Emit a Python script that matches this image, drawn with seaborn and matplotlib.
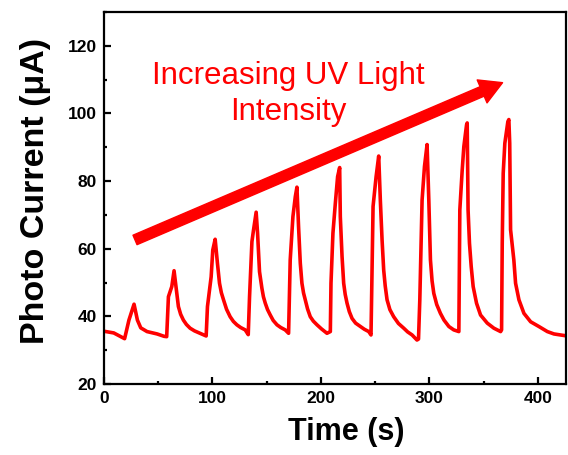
import matplotlib
matplotlib.use("Agg")
import matplotlib.pyplot as plt
from matplotlib.ticker import MultipleLocator
import seaborn as sns
import pandas as pd

# Photocurrent response to ten UV pulses of increasing intensity
time_s = [
    0, 9, 15.4, 19, 23, 27.7, 30.8, 33.9, 39.7, 49, 55.4, 57.8,
    59.4, 62.5, 64.6, 66.5, 68.6, 70.7, 73.2, 76.0, 79.4, 83.5, 88.6, 94.2,
    95.4, 97.3, 98.8, 100.3, 102.5, 104.6, 106.5, 108.2, 110.2, 113.0, 116.3, 119.3, 122.5, 126.0,
    130.2, 133.0,
    134.2, 135.4, 136.4, 137.9, 140.3, 141.6, 143.4, 145.6, 147.0, 148.7, 150.8, 153.3, 156.0,
    159.5, 163.0, 167.1, 170.2,
    171.7, 174.2, 176.4, 177.9, 179.4, 181.0, 182.5, 184.0, 185.6, 187.7, 190.2, 193.0, 196.4,
    200.5, 205.6, 208.7,
    209.3, 211.1, 213.3, 215.4, 217.3, 217.9, 219.5, 221.0, 222.4, 224.1, 226.2, 228.7, 232.0,
    236.4, 240.0, 244.1, 246.2,
    248.1, 250.9, 253.3, 254.8, 256.4, 257.9, 259.3, 261.0, 263.6, 267.1, 271.5, 276.4, 280.0,
    284.1, 288.6, 290.0,
    291.2, 293.3, 295.5, 297.9, 299.5, 301.0, 302.5, 304.1, 306.8, 310.2, 313.5, 318.0, 322.5,
    327.2,
    328.1, 330.3, 331.8, 334.3, 334.9, 335.7, 337.0, 338.6, 340.4, 343.5, 347.2, 353.4, 359.5,
    365.7, 366.6,
    367.2, 368.1, 369.6, 372.4, 373.3, 374.1, 374.9, 377.9, 379.5, 382.6, 387.2, 393.4, 401.0,
    408.8, 414.9, 427.0,
]
current_uA = [
    35.6, 35.1, 34.0, 33.4, 38.9, 43.6, 38.9, 36.6, 35.5, 34.8, 34.1, 34.0,
    45.8, 48.8, 53.5, 48.4, 42.9, 40.6, 38.9, 37.6, 36.5, 35.7, 35.0, 34.2,
    42.9, 47.8, 51.7, 59.6, 62.8, 55.7, 49.8, 47.0, 44.9, 42.1, 39.9, 38.5, 37.5, 36.7,
    36.0, 34.6,
    45.8, 54.7, 62.1, 65.6, 70.8, 64.6, 53.2, 48.3, 45.8, 43.9, 42.0, 40.4, 38.8,
    37.5, 36.7, 36.0, 35.0,
    56.7, 69.5, 75.4, 78.2, 66.5, 55.7, 49.8, 46.9, 44.9, 42.2, 39.9, 38.6, 37.5,
    36.3, 35.0, 35.5,
    49.8, 64.6, 73.4, 81.3, 84.0, 69.5, 57.7, 49.8, 46.5, 43.9, 41.4, 39.4, 38.0,
    37.0, 36.2, 35.5, 34.5,
    72.5, 81.3, 87.4, 74.4, 62.6, 53.7, 49.0, 44.9, 42.0, 39.9, 37.9, 36.5, 35.4,
    34.5, 33.0, 33.3,
    44.9, 74.4, 84.3, 90.8, 74.4, 56.7, 50.5, 46.8, 43.5, 40.9, 38.9, 37.0, 36.0,
    35.5,
    71.5, 83.3, 90.2, 96.6, 97.2, 71.5, 61.6, 54.7, 48.8, 43.9, 40.4, 38.0, 36.5,
    35.5, 36.0,
    61.6, 82.3, 91.2, 97.6, 98.2, 91.2, 65.6, 56.7, 49.8, 44.9, 40.9, 38.4, 37.0,
    35.5, 34.8, 34.2,
]

x_ticks = [0, 100, 200, 300, 400]
y_ticks = [20, 40, 60, 80, 100, 120]
annotation = "Increasing UV Light\nIntensity"

df = pd.DataFrame({"Time (s)": time_s, "Photo Current (μA)": current_uA})

sns.set_style("ticks")
plt.rcParams["font.family"] = ["Liberation Sans", "DejaVu Sans"]
plt.rcParams.update({"text.color": "black", "axes.labelcolor": "black",
                     "xtick.color": "black", "ytick.color": "black",
                     "axes.edgecolor": "black"})

fig = plt.figure(figsize=(5.68, 4.55), dpi=100)
ax = fig.add_axes([104 / 568, 1 - 384 / 455, (566 - 104) / 568, (384 - 12) / 455])

sns.lineplot(data=df, x="Time (s)", y="Photo Current (μA)", color="#ff0000",
             linewidth=2.6, ax=ax, sort=False, estimator=None)

ax.set_xlim(0, 426)
ax.set_ylim(20, 130)
ax.set_xticks(x_ticks)
ax.set_yticks(y_ticks)
ax.xaxis.set_minor_locator(MultipleLocator(50))
ax.yaxis.set_minor_locator(MultipleLocator(10))

for side in ["left", "right", "top", "bottom"]:
    ax.spines[side].set_visible(True)
    ax.spines[side].set_linewidth(1.6)
    ax.spines[side].set_color("black")

ax.tick_params(which="major", direction="in", length=5, width=1.6, pad=5,
               labelsize=12.5, top=False, right=False)
ax.tick_params(which="minor", direction="in", length=2.5, width=1.6,
               top=False, right=False)
for lbl in ax.get_xticklabels() + ax.get_yticklabels():
    lbl.set_fontweight("bold")

ax.set_xlabel("Time (s)", fontsize=22, fontweight="bold")
ax.set_ylabel("Photo Current (μA)", fontsize=24.5, fontweight="bold")
ax.xaxis.set_label_coords(0.524, -0.088)
ax.yaxis.set_label_coords(-0.115, 0.52)

ax.annotate("", xy=(367.5, 109.1), xytext=(28.6, 62.6),
            arrowprops=dict(arrowstyle="simple,tail_width=0.37,head_width=0.9,head_length=0.8",
                            mutation_scale=20, color="#ff0000", shrinkA=0, shrinkB=0))
ax.text(170, 105.8, annotation, color="#ff0000", fontsize=22.5, ha="center",
        va="center", multialignment="center", linespacing=1.24)

fig.savefig("out.png", dpi=100)
